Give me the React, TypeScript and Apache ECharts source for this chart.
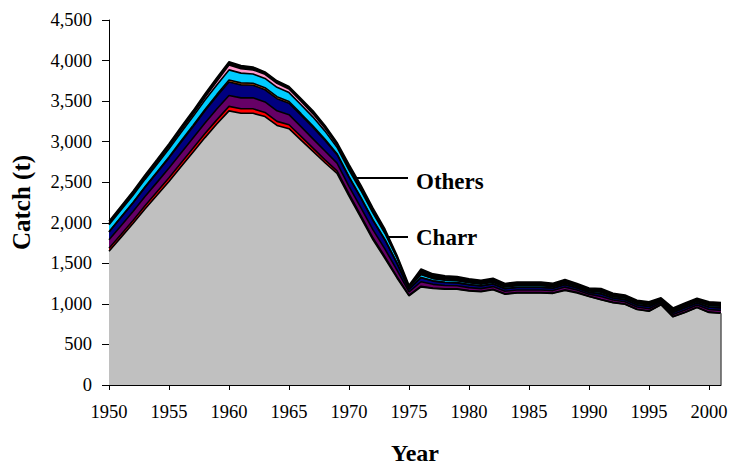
import React, { useEffect, useRef } from "react";
import * as echarts from "echarts";

const years = [
  "1950","1951","1952","1953","1954","1955","1956","1957","1958","1959",
  "1960","1961","1962","1963","1964","1965","1966","1967","1968","1969",
  "1970","1971","1972","1973","1974","1975","1976","1977","1978","1979",
  "1980","1981","1982","1983","1984","1985","1986","1987","1988","1989",
  "1990","1991","1992","1993","1994","1995","1996","1997","1998","1999",
  "2000","2001",
];

const charr = [1650,1820,1990,2170,2340,2510,2690,2870,3050,3220,3380, 3350,3350,3310,3200,3160,3020,2880,2740,2610,2330, 2060,1790,1560,1320,1100,1210,1190,1180,1180,1160, 1150,1175,1120,1135,1135,1135,1130,1165,1135,1090, 1050,1015,995,930,910,990,840,895,955,895,885];
const layerRed = [35,36,38,40,42,44,46,48,50,52,55, 55,55,50,50,48,45,40,35,30,25, 25,22,20,15,8,8,6,6,5,5, 5,5,4,4,4,4,4,10,8,5, 5,4,4,3,3,3,3,3,3,3,3];
const layerPurple = [105,108,110,113,116,120,124,127,130,133,135, 135,135,130,130,125,120,115,110,95,95, 100,100,95,80,40,55,45,40,38,36, 33,33,32,32,32,32,30,32,28,25, 35,28,28,28,28,20,27,28,28,32,32];
const layerNavy = [95,100,105,112,118,126,134,140,150,158,165, 160,155,150,150,140,140,140,130,105,110, 115,115,110,85,35,50,40,38,36,34, 32,32,30,31,31,31,28,28,25,22, 32,26,26,27,27,19,25,26,26,30,30];
const layerOrange = [5,6,7,8,10,12,14,16,18,20,25, 25,25,25,25,22,20,18,15,12,10, 10,8,8,6,3,3,3,3,3,3, 3,3,3,3,3,3,3,3,2,2, 3,2,2,2,2,2,2,2,2,2,2];
const layerCyan = [85,88,90,92,95,100,105,108,115,120,125, 120,115,115,115,110,110,110,100,80,80, 85,85,75,60,20,35,28,25,24,22, 20,20,19,20,20,20,18,18,16,15, 20,17,17,17,17,12,16,17,17,19,19];
const layerPink = [15,17,18,20,22,25,28,30,35,45,60, 55,50,50,50,45,45,40,35,25,20, 20,20,15,10,5,6,5,5,5,5, 5,5,4,4,4,4,4,4,4,4, 4,4,4,4,4,3,3,4,4,4,4];
const others = [30,30,32,35,37,38,39,41,42,42,40, 40,35,30,30,30,30,37,35,33,50, 45,40,37,24,19,63,53,48,46,45, 42,42,40,41,41,41,38,40,34,32, 41,34,34,34,34,26,34,35,35,40,40];

const seriesDefs = [
  { name: "Charr", data: charr, color: "#C0C0C0" },
  { name: "Layer 2", data: layerRed, color: "#FF0000" },
  { name: "Layer 3", data: layerPurple, color: "#660066" },
  { name: "Layer 4", data: layerNavy, color: "#000080" },
  { name: "Layer 5", data: layerOrange, color: "#FF6600" },
  { name: "Layer 6", data: layerCyan, color: "#00CCFF" },
  { name: "Layer 7", data: layerPink, color: "#FF99CC" },
  { name: "Others", data: others, color: "#000000" },
];

const yTicks = { min: 0, max: 4500, interval: 500 };
const FONT = '"Liberation Serif", "Times New Roman", serif';

export default function App() {
  const ref = useRef<HTMLDivElement>(null);
  useEffect(() => {
    if (!ref.current) return;
    const chart = echarts.init(ref.current, null, { renderer: "svg" });
    const lastYear = years[years.length - 1];
    const lastCharr = charr[charr.length - 1];
    chart.setOption({
      animation: false,
      backgroundColor: "#ffffff",
      grid: { left: 109, right: 10, top: 20, bottom: 79 },
      xAxis: {
        type: "category",
        data: years,
        boundaryGap: false,
        name: "Year",
        nameLocation: "middle",
        nameGap: 56,
        nameTextStyle: { fontFamily: FONT, fontWeight: "bold", fontSize: 24, color: "#000" },
        axisLine: { lineStyle: { color: "#000", width: 1 } },
        axisTick: {
          interval: (i: number) => i % 5 === 0,
          length: 5,
          lineStyle: { color: "#000" },
        },
        axisLabel: {
          interval: (i: number) => i % 5 === 0,
          fontFamily: FONT,
          fontSize: 18.5,
          color: "#000",
          margin: 17,
        },
        splitLine: { show: false },
      },
      yAxis: {
        type: "value",
        min: yTicks.min,
        max: yTicks.max,
        interval: yTicks.interval,
        name: "Catch (t)",
        nameLocation: "middle",
        nameGap: 75,
        nameTextStyle: { fontFamily: FONT, fontWeight: "bold", fontSize: 25, color: "#000" },
        axisLine: { show: true, lineStyle: { color: "#000", width: 1 } },
        axisTick: { show: true, length: 7, lineStyle: { color: "#000" } },
        axisLabel: {
          fontFamily: FONT,
          fontSize: 18.5,
          color: "#000",
          margin: 17,
          formatter: (v: number) => v.toLocaleString("en-US"),
        },
        splitLine: { show: false },
      },
      series: seriesDefs.map((s, idx) => ({
        name: s.name,
        type: "line",
        stack: "total",
        data: s.data,
        symbol: "none",
        lineStyle: { color: "#000", width: 1.6 },
        areaStyle: { color: s.color, opacity: 1 },
        emphasis: { disabled: true },
        ...(idx === 0
          ? {
              markLine: {
                silent: true,
                symbol: "none",
                label: { show: false },
                lineStyle: { color: "#5a5a5a", width: 1.5, type: "solid" },
                data: [[{ coord: [lastYear, 0] }, { coord: [lastYear, lastCharr] }]],
              },
            }
          : {}),
      })),
      graphic: [
        { type: "line", shape: { x1: 340, y1: 178, x2: 408, y2: 178 }, style: { stroke: "#000", lineWidth: 2 } },
        { type: "line", shape: { x1: 332, y1: 237, x2: 408, y2: 237 }, style: { stroke: "#000", lineWidth: 2 } },
        { type: "text", x: 416, y: 181, style: { text: "Others", font: `bold 23px ${FONT}`, fill: "#000", verticalAlign: "middle" } },
        { type: "text", x: 416, y: 237, style: { text: "Charr", font: `bold 23px ${FONT}`, fill: "#000", verticalAlign: "middle" } },
      ],
    });
    return () => chart.dispose();
  }, []);
  return <div ref={ref} style={{ position: "absolute", left: 0, top: 0, width: 731, height: 470 }} />;
}
